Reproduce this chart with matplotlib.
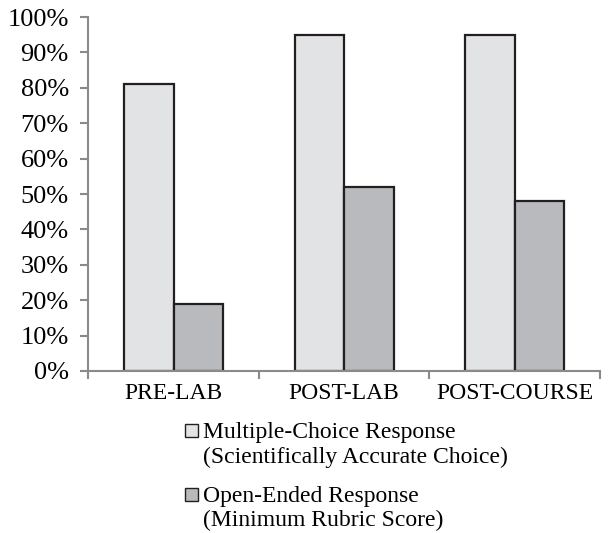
import matplotlib.pyplot as plt
import numpy as np
from matplotlib.patches import Rectangle
from matplotlib.ticker import PercentFormatter

plt.rcParams['font.family'] = ['Liberation Serif', 'DejaVu Serif']

# Data
categories = ['PRE-LAB', 'POST-LAB', 'POST-COURSE']
multiple_choice = [81, 95, 95]
open_ended = [19, 52, 48]
labels = ['Multiple-Choice Response\n(Scientifically Accurate Choice)',
          'Open-Ended Response\n(Minimum Rubric Score)']
colors = ['#e2e3e5', '#b9babd']

W, H = 609, 533
fig = plt.figure(figsize=(W / 100, H / 100), dpi=100)
ax = fig.add_axes([0.145, 0.304, 0.84, 0.664])

x = np.arange(len(categories))
w = 0.29
ax.bar(x - w / 2, multiple_choice, w, color=colors[0], edgecolor='#231f20', linewidth=1.6)
ax.bar(x + w / 2, open_ended, w, color=colors[1], edgecolor='#231f20', linewidth=1.6)

ax.set_xlim(-0.5, 2.5)
ax.set_ylim(0, 100)
ax.set_yticks(range(0, 101, 10))
ax.yaxis.set_major_formatter(PercentFormatter(decimals=0))
ax.set_xticks(x)
ax.set_xticklabels(categories)
ax.set_xticks([-0.5, 0.5, 1.5, 2.5], minor=True)
ax.tick_params(axis='x', which='major', length=0, pad=9, labelsize=17)
ax.tick_params(axis='x', which='minor', length=6, width=1.5, color='#8a8a8a')
ax.tick_params(axis='y', length=6, width=1.5, color='#8a8a8a', labelsize=19, pad=8)

for s in ['top', 'right']:
    ax.spines[s].set_visible(False)
for s in ['left', 'bottom']:
    ax.spines[s].set_color('#8a8a8a')
    ax.spines[s].set_linewidth(1.5)

# legend below the plot, square next to the first line of each label
# (pixel baselines measured from the top of the figure)
baselines = [[438, 463], [502, 526]]
for lab, col, bl in zip(labels, colors, baselines):
    fig.patches.append(Rectangle((185 / W, 1 - (bl[0] - 1) / H), 13 / W, 13 / H,
                                 transform=fig.transFigure, facecolor=col,
                                 edgecolor='#231f20', linewidth=1))
    for line, yy in zip(lab.split('\n'), bl):
        fig.text(203 / W, 1 - yy / H, line, fontsize=17,
                 ha='left', va='baseline')

fig.savefig('out.png', dpi=100)
